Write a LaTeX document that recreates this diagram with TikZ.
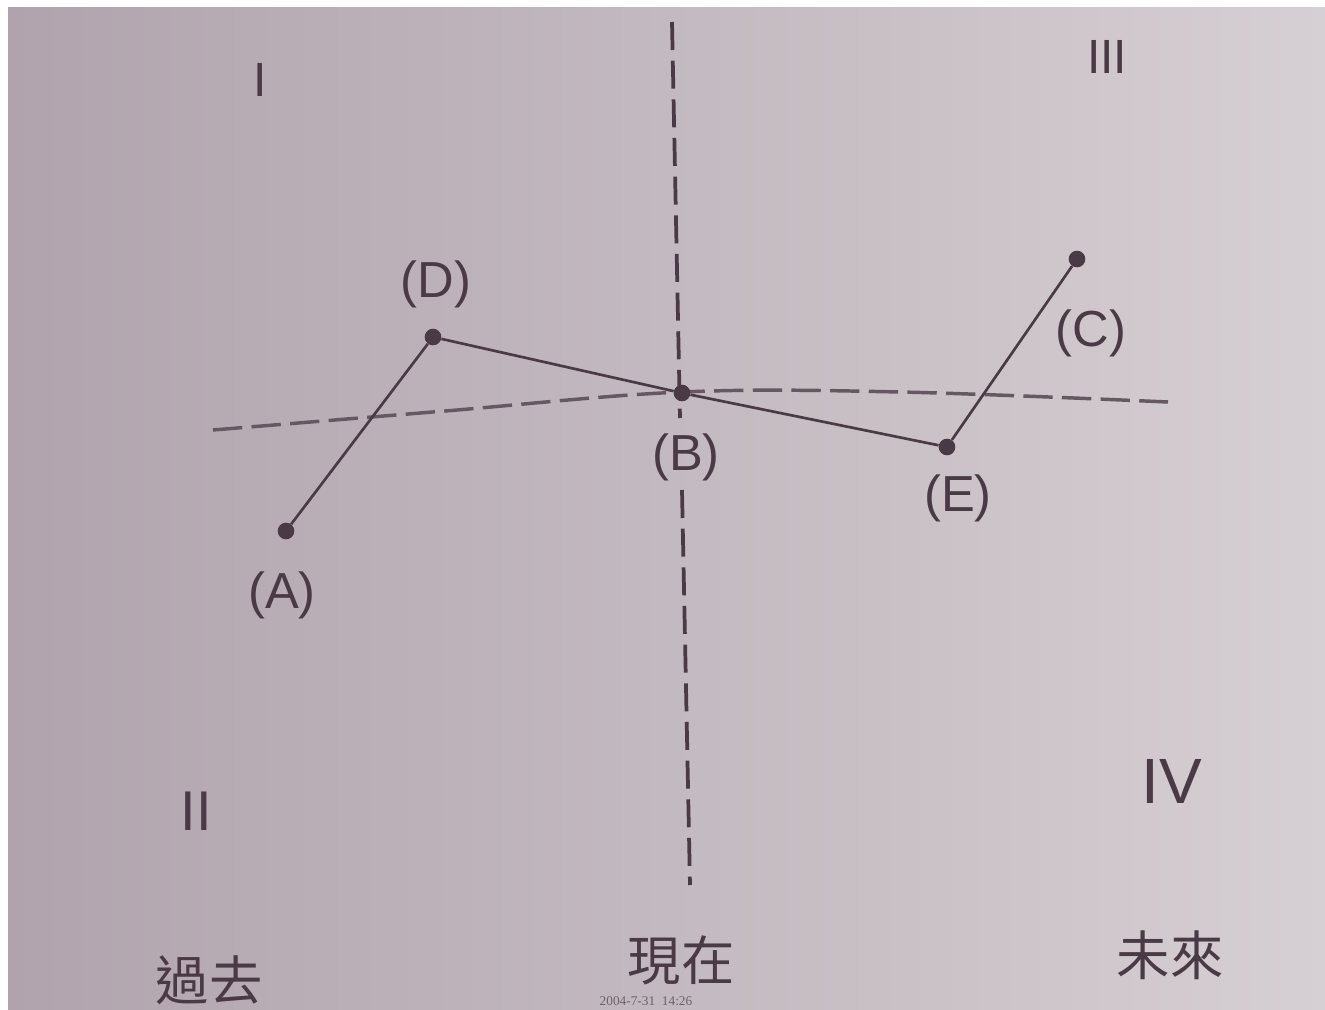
\documentclass[tikz,border=0pt]{standalone}
\usepackage{fontspec}
\setmainfont{Liberation Sans}
\newfontfamily\cjk{Noto Sans CJK TC}
\newfontfamily\stampfont{Liberation Serif}
\definecolor{ink}{RGB}{74,58,70}
\definecolor{paperL}{RGB}{176,163,173}
\definecolor{paperR}{RGB}{214,207,211}
\begin{document}
\begin{tikzpicture}[x=0.75pt,y=-0.75pt,
  dot/.style={circle,fill=ink,inner sep=0pt,minimum size=12.5pt},
  lbl/.style={text=ink,font=\fontsize{38}{40}\selectfont,inner sep=0pt},
  roman/.style={text=ink,font=\fontsize{42}{44}\selectfont,inner sep=0pt},
  han/.style={text=ink,font=\cjk\fontsize{40}{44}\selectfont,inner sep=0pt},
  axisdash/.style={draw=ink,line width=2.8pt,dash pattern=on 21pt off 8pt},
  curvedash/.style={draw=ink!85,line width=2.6pt,dash pattern=on 22pt off 7pt},
  link/.style={draw=ink,line width=2pt}]
\useasboundingbox (0,0) rectangle (1325,1010);
\fill[white] (0,0) rectangle (1325,1010);
\shade[left color=paperL,right color=paperR] (8,7) rectangle (1325,1010);

% coordinates of the axes
\coordinate (vtop) at (672,22);
\coordinate (vmid1) at (680,418);
\coordinate (vmid2) at (682,490);
\coordinate (vbot) at (690,885);

% dashed axes
\draw[axisdash] (vtop) -- (vmid1);
\draw[axisdash] (vmid2) -- (vbot);
\draw[curvedash] plot[smooth,tension=0.6] coordinates {(213,430) (445,411) (682,392) (900,392) (1168,402)};

% points
\node[dot] (A) at (286,531) {};
\node[dot] (D) at (433,337) {};
\node[dot] (B) at (682,393) {};
\node[dot] (E) at (947,447) {};
\node[dot] (C) at (1077,259) {};

\draw[link] (A) -- (D) -- (B) -- (E) -- (C);

% point labels
\node[lbl] (lD) at (436,284) {(D)};
\node[lbl] (lB) at (686,457) {(B)};
\node[lbl] (lE) at (958,498) {(E)};
\node[lbl] (lC) at (1091,333) {(C)};
\node[lbl] (lA) at (282,595) {(A)};

% quadrant numerals
\node[roman,font=\fontsize{36}{40}\selectfont] (q1) at (260,80) {I};
\node[roman,font=\fontsize{36}{40}\selectfont] (q3) at (1107,57) {III};
\node[roman] (q2) at (196,811) {II};
\node[roman,font=\fontsize{48}{50}\selectfont] (q4) at (1172,781) {IV};

% time labels
\node[han] (past) at (209,980) {過去};
\node[han] (now) at (681,960) {現在};
\node[han] (future) at (1170,955) {未來};

% camera timestamp
\node[text=ink!80,font=\stampfont\fontsize{10}{11}\selectfont,inner sep=0pt] (stamp) at (646,1001) {2004-7-31\ \ 14:26};
\end{tikzpicture}
\end{document}
